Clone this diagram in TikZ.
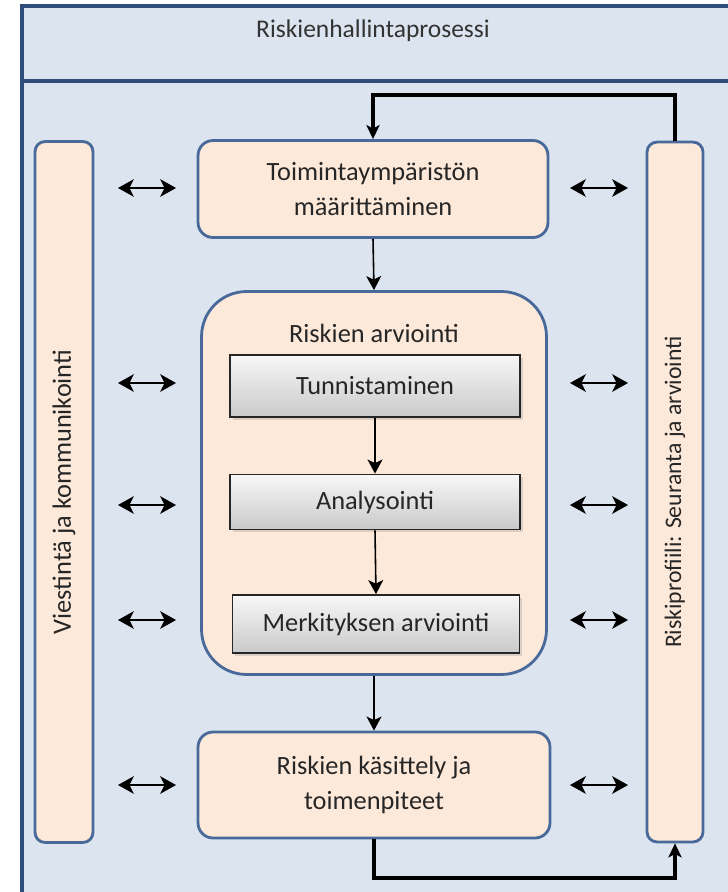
\documentclass[tikz,border=0pt]{standalone}
\usepackage{fontspec}
\setmainfont{Carlito}
\usetikzlibrary{arrows.meta,shadows}
\definecolor{kehys}{HTML}{2E4D7B}
\definecolor{pohja}{HTML}{DCE4EF}
\definecolor{persikka}{HTML}{FDE9DA}
\definecolor{reuna}{HTML}{48699A}
\tikzset{bx/.append style={draw=reuna, line width=1.6pt, fill=persikka, rounded corners=0.3cm, align=center, inner sep=0pt, text=black!85, font=\fontsize{15}{20}\selectfont}}
\tikzset{gr/.append style={draw=black!85, line width=1pt, top color=gray!6, bottom color=gray!42, inner sep=0pt, text=black!85, font=\fontsize{15}{20}\selectfont, drop shadow={shadow xshift=1.5pt, shadow yshift=-1.5pt, opacity=0.25}}}
\tikzset{dbl/.append style={{Stealth[length=9pt,width=10pt,inset=2.5pt]}-{Stealth[length=9pt,width=10pt,inset=2.5pt]}, line width=1.2pt}}
\tikzset{fl/.append style={-{Stealth[length=8pt,width=8.5pt,inset=2pt]}, line width=0.9pt}}
\tikzset{fb/.append style={-{Stealth[length=8pt,width=7.5pt,inset=2pt]}, line width=2pt}}

\begin{document}
\begin{tikzpicture}[x=0.02cm,y=-0.02cm]
                \useasboundingbox (0,0) rectangle (727,892);
                % frame and title band
                \fill[pohja] (22,6) rectangle (745,900);
                \draw[kehys, line width=2.2pt] (22,6) rectangle (745,900);
                \draw[kehys, line width=2.2pt] (22,81) -- (745,81);
                \node[text=black!80, font=\fontsize{14.5}{18}\selectfont] (otsikko) at (373,31) {Riskienhallintaprosessi};
                % side bars
                \node[bx, rotate=90, rounded corners=0.2cm, minimum width=14.02cm, minimum height=1.16cm] (viesti) at (64,492) {Viestintä ja kommunikointi};
                \node[bx, rotate=90, rounded corners=0.2cm, minimum width=14cm, minimum height=1.12cm, font=\fontsize{13.5}{18}\selectfont] (seuranta) at (675,492) {Riskiprofiili: Seuranta ja arviointi};
                % process boxes
                \node[bx, minimum width=7cm, minimum height=1.94cm] (toim) at (373,189) {Toimintaympäristön\\määrittäminen};
                \node[bx, rounded corners=0.9cm, minimum width=6.9cm, minimum height=7.66cm] (arvi) at (374,483) {};
                \node[text=black!85, font=\fontsize{15}{20}\selectfont] (arvit) at (374,333) {Riskien arviointi};
                \node[gr, minimum width=5.8cm, minimum height=1.24cm] (tunn) at (375,386) {Tunnistaminen};
                \node[gr, minimum width=5.8cm, minimum height=1.1cm] (anal) at (375,502) {Analysointi};
                \node[gr, minimum width=5.74cm, minimum height=1.16cm] (merk) at (376,624) {Merkityksen arviointi};
                \node[bx, minimum width=7.04cm, minimum height=2.12cm] (kasi) at (374,785) {Riskien käsittely ja\\toimenpiteet};
                % flow
                \draw[fl] (toim.south) -- (arvi.north);
                \draw[fl] (tunn.south) -- (anal.north);
                \draw[fl] (anal.south) -- (merk.north);
                \draw[fl] (arvi.south) -- (kasi.north);
                % feedback loop
                \coordinate (ylos) at (675,95);
                \coordinate (alas) at (675,878);
                \draw[fb] (seuranta.east) -- (ylos) -| (toim.north);
                \draw[fb] (kasi.south) |- (alas) -- (seuranta.west);
                % two-way arrows
                \foreach \n/\y in {a/188,b/383,c/505,d/620,e/785} {
                    \coordinate (v\n1) at (118,\y);
                    \coordinate (v\n2) at (176,\y);
                    \coordinate (s\n1) at (570,\y);
                    \coordinate (s\n2) at (628,\y);
                    \draw[dbl] (v\n1) -- (v\n2);
                    \draw[dbl] (s\n1) -- (s\n2);
                }
            \end{tikzpicture}
\end{document}
